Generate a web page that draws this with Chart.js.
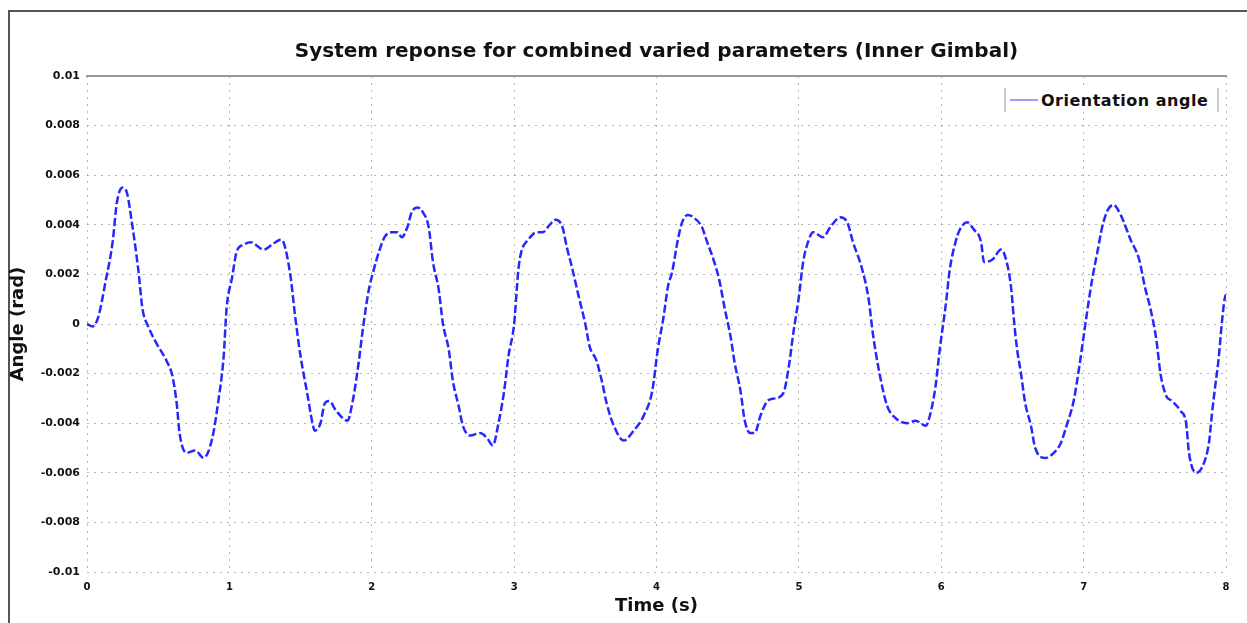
<!DOCTYPE html>
<html lang="en">
<head>
  <meta charset="UTF-8">
  <title>System reponse for combined varied parameters (Inner Gimbal)</title>
  <style>
    body {
      margin: 0;
      background: #fff;
      font-family: "DejaVu Sans", sans-serif;
    }
    .frame {
      position: absolute;
      left: 8px;
      top: 10px;
      width: 1239px;
      height: 613px;
      border-top: 2px solid #555;
      border-left: 2px solid #555;
      box-sizing: border-box;
    }
    #chartBox {
      position: absolute;
      left: 8px;
      top: 10px;
      width: 1239px;
      height: 613px;
    }
    .legend {
      position: absolute;
      left: 1004px;
      top: 88px;
      width: 203px;
      height: 24px;
      padding: 0 4px;
      border-left: 2px solid #ccc;
      border-right: 2px solid #ccc;
      background: #fff;
      display: flex;
      align-items: center;
      font-weight: bold;
      font-size: 16px;
      letter-spacing: 0.5px;
      color: #111;
    }
    .legend span.swatch {
      display: inline-block;
      width: 28px;
      height: 2px;
      background: #9a9aff;
      margin-right: 3px;
    }
  </style>
</head>
<body>
<div class="frame"></div>
<div id="chartBox"><canvas id="myChart"></canvas></div>
<div class="legend"><span class="swatch"></span>Orientation angle</div>

<script src="https://cdn.jsdelivr.net/npm/chart.js"></script>
<script>
  // time (s)
  const times = [
    0.00, 0.04, 0.08, 0.13, 0.18, 0.21, 0.25, 0.28, 0.32, 0.36, 0.39, 0.43, 0.49, 0.56, 0.60, 0.63,
    0.65, 0.70, 0.76, 0.82, 0.88, 0.92, 0.96, 0.98, 1.02, 1.05, 1.10, 1.15, 1.24, 1.30, 1.36, 1.38,
    1.43, 1.46, 1.50, 1.55, 1.58, 1.60, 1.64, 1.67, 1.70, 1.75, 1.83, 1.86, 1.90, 1.94, 1.98, 2.01,
    2.05, 2.09, 2.14, 2.18, 2.21, 2.25, 2.28, 2.32, 2.36, 2.40, 2.43, 2.47, 2.50, 2.54, 2.57, 2.61,
    2.64, 2.69, 2.76, 2.81, 2.85, 2.89, 2.93, 2.96, 3.00, 3.02, 3.03, 3.05, 3.10, 3.16, 3.20, 3.25,
    3.29, 3.34, 3.37, 3.41, 3.45, 3.50, 3.53, 3.58, 3.62, 3.65, 3.70, 3.77, 3.84, 3.91, 3.97, 4.01,
    4.05, 4.08, 4.11, 4.15, 4.18, 4.22, 4.26, 4.32, 4.35, 4.40, 4.44, 4.48, 4.52, 4.55, 4.59, 4.62,
    4.66, 4.69, 4.73, 4.78, 4.83, 4.89, 4.93, 4.96, 5.00, 5.03, 5.07, 5.10, 5.17, 5.22, 5.29, 5.34,
    5.38, 5.44, 5.49, 5.52, 5.57, 5.62, 5.68, 5.76, 5.82, 5.89, 5.92, 5.96, 5.99, 6.03, 6.06, 6.10,
    6.13, 6.18, 6.23, 6.28, 6.30, 6.36, 6.42, 6.45, 6.49, 6.51, 6.53, 6.56, 6.59, 6.63, 6.66, 6.73,
    6.79, 6.84, 6.88, 6.93, 6.97, 7.00, 7.03, 7.06, 7.10, 7.13, 7.17, 7.21, 7.26, 7.33, 7.39, 7.43,
    7.47, 7.51, 7.54, 7.58, 7.62, 7.68, 7.72, 7.74, 7.79, 7.83, 7.88, 7.90, 7.92, 7.95, 7.97, 7.99,
    8.00
  ];

  // orientation angle (rad)
  const angles = [
    0.0000, -0.0001, 0.0003, 0.0017, 0.0033, 0.0049, 0.0055, 0.0053, 0.0039, 0.0022, 0.0006, -0.0001, -0.0008, -0.0015, -0.0021, -0.0032,
    -0.0044, -0.0052, -0.0051, -0.0054, -0.0046, -0.0032, -0.0013, 0.0006, 0.0019, 0.0029, 0.0032, 0.0033, 0.0030, 0.0032, 0.0034, 0.0033,
    0.0019, 0.0004, -0.0013, -0.0029, -0.0039, -0.0043, -0.0040, -0.0032, -0.0031, -0.0035, -0.0039, -0.0033, -0.0019, -0.0001, 0.0014, 0.0021,
    0.0029, 0.0035, 0.0037, 0.0037, 0.0035, 0.0039, 0.0045, 0.0047, 0.0045, 0.0039, 0.0025, 0.0014, 0.0000, -0.0010, -0.0023, -0.0033,
    -0.0041, -0.0045, -0.0044, -0.0046, -0.0049, -0.0040, -0.0027, -0.0013, 0.0000, 0.0015, 0.0022, 0.0029, 0.0034, 0.0037, 0.0037, 0.0040,
    0.0042, 0.0039, 0.0031, 0.0022, 0.0012, 0.0000, -0.0009, -0.0015, -0.0024, -0.0032, -0.0041, -0.0047, -0.0043, -0.0037, -0.0027, -0.0010,
    0.0003, 0.0015, 0.0021, 0.0034, 0.0041, 0.0044, 0.0043, 0.0039, 0.0034, 0.0026, 0.0018, 0.0006, -0.0005, -0.0016, -0.0027, -0.0039,
    -0.0044, -0.0044, -0.0037, -0.0031, -0.0030, -0.0028, -0.0017, -0.0004, 0.0011, 0.0025, 0.0034, 0.0037, 0.0035, 0.0039, 0.0043, 0.0041,
    0.0033, 0.0023, 0.0010, -0.0004, -0.0021, -0.0033, -0.0038, -0.0040, -0.0039, -0.0041, -0.0037, -0.0025, -0.0010, 0.0007, 0.0022, 0.0033,
    0.0038, 0.0041, 0.0038, 0.0033, 0.0025, 0.0026, 0.0030, 0.0027, 0.0015, 0.0002, -0.0009, -0.0020, -0.0032, -0.0041, -0.0050, -0.0054,
    -0.0052, -0.0048, -0.0041, -0.0031, -0.0017, -0.0005, 0.0007, 0.0018, 0.0030, 0.0039, 0.0046, 0.0048, 0.0044, 0.0034, 0.0026, 0.0015,
    0.0006, -0.0006, -0.0020, -0.0029, -0.0031, -0.0035, -0.0040, -0.0052, -0.0060, -0.0058, -0.0048, -0.0037, -0.0027, -0.0013, 0.0000, 0.0010,
    0.0012
  ];

  const yTicks = [0.01, 0.008, 0.006, 0.004, 0.002, 0, -0.002, -0.004, -0.006, -0.008, -0.01];
  const xTicks = [0, 1, 2, 3, 4, 5, 6, 7, 8];

  const points = times.map((t, i) => ({ x: t, y: angles[i] }));

  const gridColor = 'rgba(120,120,120,0.55)';

  const ctx = document.getElementById('myChart').getContext('2d');
  new Chart(ctx, {
    type: 'line',
    data: {
      datasets: [{
        label: 'Orientation angle',
        data: points,
        borderColor: '#2626ff',
        borderWidth: 2.5,
        borderDash: [8, 3],
        pointRadius: 0,
        cubicInterpolationMode: 'monotone',
        fill: false
      }]
    },
    options: {
      responsive: true,
      maintainAspectRatio: false,
      animation: false,
      layout: { padding: { left: 0, right: 21, top: 0, bottom: 0 } },
      plugins: {
        legend: { display: false },
        tooltip: { enabled: false },
        title: {
          display: true,
          fullSize: false,
          text: 'System reponse for combined varied parameters (Inner Gimbal)',
          color: '#111',
          font: { family: 'DejaVu Sans', size: 20, weight: 'bold' },
          padding: { top: 30, bottom: 12 }
        }
      },
      scales: {
        x: {
          type: 'linear',
          min: 0,
          max: 8,
          afterBuildTicks: s => { s.ticks = xTicks.map(v => ({ value: v })); },
          afterFit: s => { s.height = 51; },
          ticks: {
            color: '#111',
            padding: 9,
            font: { family: 'DejaVu Sans', size: 10, weight: 'bold' }
          },
          grid: { color: gridColor, drawTicks: false, lineWidth: 1 },
          border: { display: false, dash: [2, 5] },
          title: {
            display: true,
            text: 'Time (s)',
            color: '#111',
            font: { family: 'DejaVu Sans', size: 18, weight: 'bold' },
            padding: { top: 2, bottom: 6 }
          }
        },
        x2: {
          type: 'linear',
          position: 'top',
          min: 0,
          max: 8,
          ticks: { display: false },
          grid: { display: false, drawTicks: false },
          border: { display: true, color: '#999', width: 2 }
        },
        y: {
          min: -0.01,
          max: 0.01,
          afterBuildTicks: s => { s.ticks = yTicks.map(v => ({ value: v })); },
          afterFit: s => { s.width = 79; },
          ticks: {
            color: '#111',
            padding: 7,
            font: { family: 'DejaVu Sans', size: 11, weight: 'bold' },
            callback: v => String(Math.round(v * 1000) / 1000)
          },
          grid: { color: gridColor, drawTicks: false, lineWidth: 1 },
          border: { display: false, dash: [2, 5] },
          title: {
            display: true,
            text: 'Angle (rad)',
            color: '#111',
            font: { family: 'DejaVu Sans', size: 18, weight: 'bold' },
            padding: { top: 0, bottom: 0 }
          }
        }
      }
    }
  });
</script>
</body>
</html>
